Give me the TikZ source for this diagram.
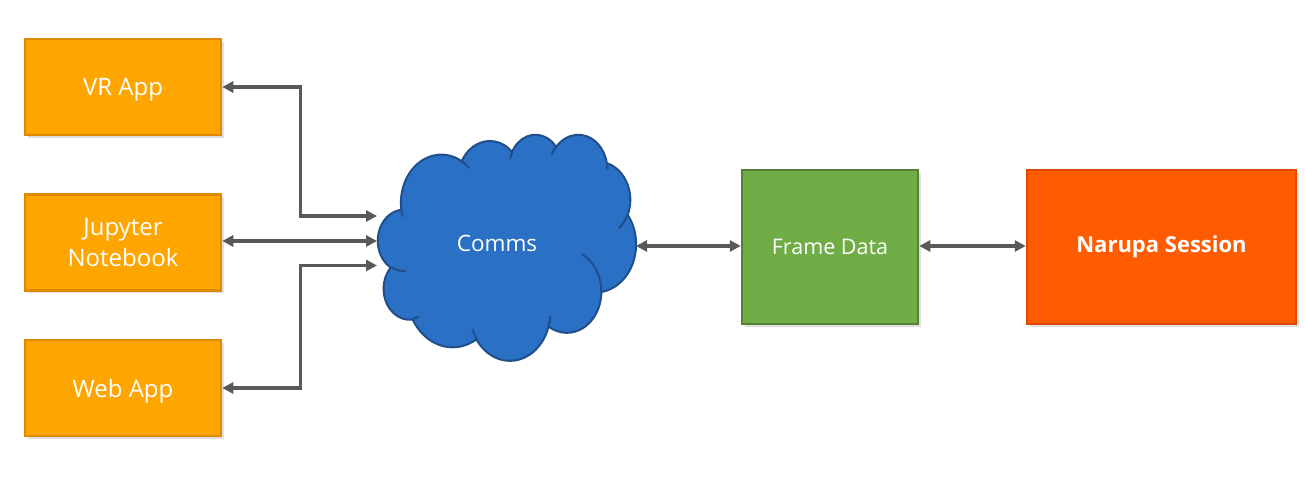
\documentclass[tikz,border=0pt]{standalone}
\usepackage{fontspec}
\setmainfont{Open Sans}
\usetikzlibrary{arrows.meta,shadows}
\definecolor{orfill}{HTML}{FFA500}
\definecolor{ordraw}{HTML}{DE8A00}
\definecolor{grfill}{HTML}{70AD47}
\definecolor{grdraw}{HTML}{538135}
\definecolor{nafill}{HTML}{FF5B00}
\definecolor{nadraw}{HTML}{E04800}
\definecolor{clfill}{HTML}{2A70C4}
\definecolor{cldraw}{HTML}{1F4E8A}
\definecolor{arrcol}{HTML}{595959}
\newcommand\csx{0.59722}
\newcommand\csy{0.52315}
\newcommand\cpt[2]{\pgfpoint{378pt+#1*\csx pt}{345pt-#2*\csy pt}}
\newcommand\cldarc[4]{%
  \pgfmathsetmacro\clA{#1}%
  \pgfmathsetmacro\clB{#2}%
  \pgfmathsetmacro\clS{atan2(\clA*sin(#3),\clB*cos(#3))}%
  \pgfmathsetmacro\clE{atan2(\clA*sin(#3+#4),\clB*cos(#3+#4))}%
  \pgfmathsetmacro\clE{(\clS)+mod((\clE)-(\clS)+720,360)}%
  \pgfmathsetmacro\clS{0-(\clS)}%
  \pgfmathsetmacro\clE{0-(\clE)}%
  \pgfmathsetmacro\clRx{\clA*\csx}%
  \pgfmathsetmacro\clRy{\clB*\csy}%
  \pgfpatharc{\clS}{\clE}{\clRx pt and \clRy pt}%
}
\tikzset{
  box/.style={draw, line width=2.5pt, inner sep=0pt, text=white,
    drop shadow={shadow xshift=2.5pt, shadow yshift=-3pt, opacity=0.12, fill=black}},
  appbox/.style={box, fill=orfill, draw=ordraw, minimum width=196, minimum height=96,
    align=center, font=\fontsize{24}{31}\selectfont},
  link/.style={draw=arrcol, line width=3.2pt, line join=miter,
    {Triangle[length=11pt,width=11pt]}-{Triangle[length=11pt,width=11pt]}},
}
\begin{document}
\begin{tikzpicture}[x=1pt,y=1pt]
\fill[white] (0,0) rectangle (1306,479);
\useasboundingbox (0,0) rectangle (1306,479);

% boxes
\node[appbox, text depth=0pt] (vr) at (123,392) {VR App};
\node[appbox] (jn) at (123,236.5) {Jupyter\\Notebook};
\node[appbox, text depth=0pt] (web) at (123,91) {Web App};
\node[box, fill=grfill, draw=grdraw, minimum width=176, minimum height=154,
  font=\fontsize{21.5}{26}\selectfont] (fd) at (830,232) {Frame Data};
\node[box, fill=nafill, draw=nadraw, minimum width=269, minimum height=154,
  font=\fontsize{22}{27}\selectfont\bfseries] (ns) at (1161.5,232) {Narupa Session};

% cloud
\begin{scope}
\pgfsetfillcolor{clfill}\pgfsetstrokecolor{cldraw}\pgfsetlinewidth{2pt}
\pgfpathmoveto{\cpt{39.00}{143.70}}
\cldarc{67.53}{91.90}{-190.4875}{123.7805}
\cldarc{53.33}{72.67}{-144.1024}{89.9452}
\cldarc{43.65}{59.45}{-145.8079}{99.7230}
\cldarc{48.57}{65.95}{-130.9861}{117.2417}
\cldarc{53.33}{72.73}{-78.7089}{109.0269}
\cldarc{67.75}{92.20}{-46.2673}{130.2690}
\cldarc{57.85}{78.67}{0.6250}{114.0333}
\cldarc{67.52}{92.15}{22.4516}{115.1726}
\cldarc{77.20}{105.43}{66.2426}{75.7110}
\cldarc{43.60}{59.18}{-274.9421}{146.7356}
\cldarc{43.45}{59.45}{-246.8285}{152.5189}
\pgfpathclose
\pgfusepath{fill,stroke}
\pgfpathmoveto{\cpt{46.93}{261.77}}\cldarc{43.45}{59.45}{86.742}{26.4295}
\pgfpathmoveto{\cpt{69.28}{348.99}}\cldarc{43.60}{59.18}{73.6105}{11.4475}
\pgfpathmoveto{\cpt{164.78}{390.90}}\cldarc{67.52}{92.15}{137.6242}{14.0811}
\pgfpathmoveto{\cpt{288.27}{347.51}}\cldarc{67.52}{92.15}{6.4533}{15.9984}
\pgfpathmoveto{\cpt{341.29}{229.54}}\cldarc{57.85}{78.67}{-70.2924}{70.9174}
\pgfpathmoveto{\cpt{417.98}{153.54}}\cldarc{53.33}{72.73}{30.3180}{27.7515}
\pgfpathmoveto{\cpt{383.24}{54.26}}\cldarc{48.57}{65.95}{-13.7443}{14.8589}
\pgfpathmoveto{\cpt{290.78}{39.52}}\cldarc{48.57}{65.95}{-149.1815}{18.1954}
\pgfpathmoveto{\cpt{221.41}{47.20}}\cldarc{43.65}{59.45}{-163.4943}{17.6864}
\pgfpathmoveto{\cpt{140.00}{51.92}}\cldarc{67.53}{91.90}{-66.7070}{12.3194}
\pgfpathmoveto{\cpt{41.27}{157.89}}\cldarc{67.53}{91.90}{157.6544}{11.8582}
\pgfusepath{stroke}
\end{scope}
\node[text=white, font=\fontsize{22.5}{27}\selectfont] (comms) at (497,236) {Comms};

% connector end points on the cloud
\coordinate (c1) at (377,263);
\coordinate (c2) at (377,238);
\coordinate (c3) at (377,213.5);
\coordinate (c4) at (636,233);

% connectors
\draw[link] (vr.east) -- ++(78,0) |- (c1);
\draw[link] (jn.east |- c2) -- (c2);
\draw[link] (web.east) -- ++(78,0) |- (c3);
\draw[link] (c4) -- (fd.west |- c4);
\draw[link] (fd.east |- c4) -- (ns.west |- c4);
\end{tikzpicture}
\end{document}
